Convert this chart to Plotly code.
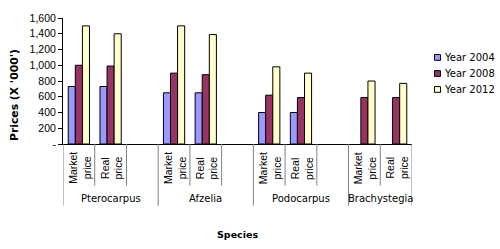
import plotly.graph_objects as go

species = ["Pterocarpus", "Afzelia", "Podocarpus", "Brachystegia"]
price_types = ["Market<br>price", "Real<br>price"]
series_names = ["Year 2004", "Year 2008", "Year 2012"]
series_colors = ["#9999FF", "#993366", "#FFFFCC"]

# values per category: Market, Real for each species
y2004 = [730, 730, 650, 650, 400, 400, None, None]
y2008 = [1000, 990, 900, 880, 620, 590, 590, 590]
y2012 = [1500, 1400, 1500, 1390, 980, 900, 800, 770]
series_values = [y2004, y2008, y2012]

ytick_vals = [0, 200, 400, 600, 800, 1000, 1200, 1400, 1600]
ytick_text = ["-", "200", "400", "600", "800", "1,000", "1,200", "1,400", "1,600"]

# category positions: each species gets 2 slots + a blank spacer slot
xpos = []
for gi in range(len(species)):
    for ti in range(len(price_types)):
        xpos.append(gi * 3 + ti)

fig = go.Figure()
for name, vals, col in zip(series_names, series_values, series_colors):
    fig.add_trace(go.Bar(
        x=xpos, y=vals, name=name, showlegend=False,
        marker=dict(color=col, line=dict(color="#000000", width=1)),
    ))

n_cat = len(species) * 3 - 1
shapes = []
annotations = []
# divider lines below axis
for gi in range(len(species)):
    start = gi * 3 - 0.5
    shapes.append(dict(type="line", xref="x", yref="paper", x0=start, x1=start,
                       y0=0, y1=-0.49, line=dict(color="#808080", width=1)))
    for k in range(1, 3 if gi < len(species) - 1 else 2):
        xb = start + k
        shapes.append(dict(type="line", xref="x", yref="paper", x0=xb, x1=xb,
                           y0=0, y1=-0.33, line=dict(color="#808080", width=1)))
shapes.append(dict(type="line", xref="x", yref="paper", x0=n_cat - 0.5, x1=n_cat - 0.5,
                   y0=0, y1=-0.49, line=dict(color="#808080", width=1)))

for gi, sp in enumerate(species):
    for ti, pt in enumerate(price_types):
        annotations.append(dict(
            text=pt, x=gi * 3 + ti, xref="x", y=-0.19, yref="paper",
            textangle=-90, showarrow=False, xanchor="center", yanchor="middle",
            xshift=1, font=dict(family="Liberation Sans", size=10.5, color="#000000"),
        ))
    last = min(gi * 3 + 2.5, n_cat - 0.5)
    center = (gi * 3 - 0.5 + last) / 2
    annotations.append(dict(
        text=sp, x=center, xref="x", y=-0.435, yref="paper", showarrow=False,
        xanchor="center", yanchor="middle",
        font=dict(family="DejaVu Sans", size=10, color="#000000"),
    ))

# axis titles
annotations.append(dict(text="<b>Species</b>", x=0.5, y=-0.715, xref="paper", yref="paper",
                        showarrow=False, xanchor="center", yanchor="middle",
                        font=dict(family="DejaVu Sans", size=9.5, color="#000000")))
annotations.append(dict(text="<b>Prices (X '000')</b>", x=-0.1375, y=0.389, xref="paper",
                        yref="paper", textangle=-90, showarrow=False, xanchor="center",
                        yanchor="middle",
                        font=dict(family="DejaVu Sans", size=10.8, color="#000000")))

# legend (drawn manually for compact key squares)
legend_rows_px = [54, 70.7, 87.3]
pw, ph = 349, 131
for name, col, ypx in zip(series_names, series_colors, legend_rows_px):
    yc = (144 - ypx) / ph
    shapes.append(dict(type="rect", xref="paper", yref="paper",
                       x0=(434.5 - 63) / pw, x1=(440.5 - 63) / pw,
                       y0=yc - 3 / ph, y1=yc + 3 / ph,
                       fillcolor=col, line=dict(color="#000000", width=1)))
    annotations.append(dict(text=name, x=(442 - 63) / pw, y=yc, xref="paper", yref="paper",
                            showarrow=False, xanchor="left", yanchor="middle",
                            font=dict(family="DejaVu Sans", size=10, color="#000000")))

fig.update_layout(
    width=500, height=249,
    margin=dict(l=63, r=88, t=13, b=105),
    paper_bgcolor="white", plot_bgcolor="white",
    barmode="group", bargap=0.33, bargroupgap=0,
    showlegend=False,
    shapes=shapes, annotations=annotations,
    xaxis=dict(range=[-0.5, n_cat - 0.5], showticklabels=False, ticks="",
               showgrid=False, zeroline=False, showline=True,
               linecolor="#000000", linewidth=1),
    yaxis=dict(range=[0, 1600], tickvals=ytick_vals, ticktext=ytick_text,
               ticks="outside", ticklen=4, tickcolor="#000000",
               showgrid=False, zeroline=False, showline=True,
               linecolor="#000000", linewidth=1,
               tickfont=dict(family="Liberation Sans", size=10.5, color="#000000")),
)

fig.write_html("out.html", config={"displayModeBar": False, "staticPlot": True},
               post_script="document.body.style.margin='0';document.body.style.overflow='hidden';")
